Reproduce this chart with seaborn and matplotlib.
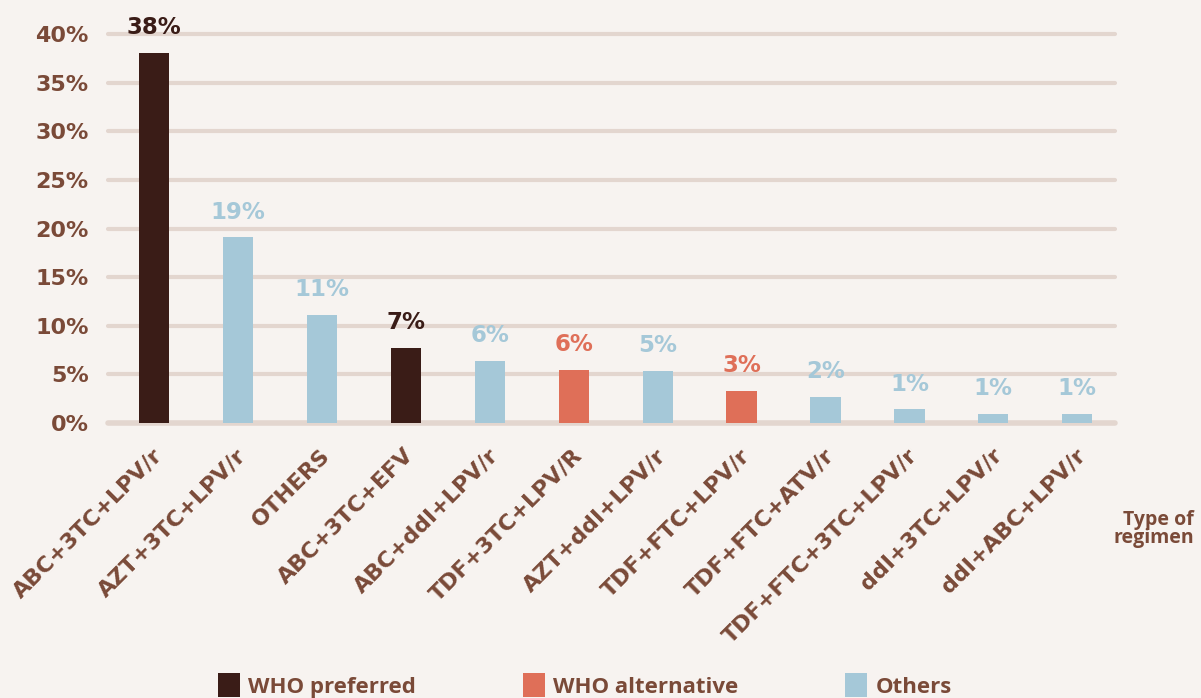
import matplotlib
matplotlib.use("Agg")
import matplotlib.pyplot as plt
import matplotlib.transforms as mtransforms
import seaborn as sns
import pandas as pd
from matplotlib.patches import Patch

# data
regimens = ["ABC+3TC+LPV/r", "AZT+3TC+LPV/r", "OTHERS", "ABC+3TC+EFV",
            "ABC+ddI+LPV/r", "TDF+3TC+LPV/R", "AZT+ddI+LPV/r", "TDF+FTC+LPV/r",
            "TDF+FTC+ATV/r", "TDF+FTC+3TC+LPV/r", "ddI+3TC+LPV/r", "ddI+ABC+LPV/r"]
share = [38.1, 19.1, 11.1, 7.7, 6.4, 5.5, 5.4, 3.3, 2.7, 1.4, 0.9, 0.9]
value_labels = ["38%", "19%", "11%", "7%", "6%", "6%", "5%", "3%", "2%", "1%", "1%", "1%"]
groups = ["WHO preferred", "Others", "Others", "WHO preferred", "Others",
          "WHO alternative", "Others", "WHO alternative", "Others", "Others",
          "Others", "Others"]
group_order = ["WHO preferred", "WHO alternative", "Others"]
yticks = [0, 5, 10, 15, 20, 25, 30, 35, 40]

bg = "#f7f3f0"
txt = "#7a4a38"
grid_c = "#e3d6cf"
palette = {"WHO preferred": "#3a1c17", "WHO alternative": "#df6f58", "Others": "#a5c8d8"}

df = pd.DataFrame({"regimen": regimens, "share": share, "group": groups})

sns.set_style("white")
plt.rcParams["font.family"] = ["DejaVu Sans"]
side_font = ["Open Sans", "DejaVu Sans"]

fig = plt.figure(figsize=(12.01, 6.98), dpi=100, facecolor=bg)
ax = fig.add_axes([0.0899, 0.394, 0.8385, 0.557], facecolor=bg)

sns.barplot(data=df, x="regimen", y="share", hue="group", palette=palette,
            hue_order=group_order, dodge=False, width=0.36, ax=ax,
            legend=False, saturation=1, linewidth=0)

ax.set_ylim(0, 40)
ax.set_xlim(-0.55, 11.45)
ax.set_yticks(yticks)
ax.set_yticklabels([f"{t}%" for t in yticks])
ax.set_axisbelow(True)
for t in yticks[1:]:
    ax.axhline(t, color=grid_c, lw=3, zorder=0, solid_capstyle="round", clip_on=False)
ax.axhline(0, color=grid_c, lw=4, zorder=0.5, solid_capstyle="round", clip_on=False)
for s in ax.spines.values():
    s.set_visible(False)
ax.tick_params(axis="both", length=0, colors=txt)
ax.tick_params(axis="y", pad=14, labelsize=16)
ax.tick_params(axis="x", pad=21, labelsize=16)
for lab in ax.get_yticklabels():
    lab.set_fontweight("bold")
shift = mtransforms.ScaledTranslation(5 / 100, 0, fig.dpi_scale_trans)
for lab in ax.get_xticklabels():
    lab.set_fontweight("bold")
    lab.set_rotation(45)
    lab.set_ha("right")
    lab.set_va("center")
    lab.set_rotation_mode("anchor")
    lab.set_transform(lab.get_transform() + shift)
ax.set_xlabel("")
ax.set_ylabel("")

# value labels above bars
for i, (v, lbl, g) in enumerate(zip(share, value_labels, groups)):
    ax.annotate(lbl, (i, v), xytext=(0, 13.5), textcoords="offset points",
                ha="center", va="baseline", fontsize=16.5, fontweight="bold",
                color=palette[g])

fig.text(0.994, 0.242, "Type of\nregimen", ha="right", va="center",
         fontsize=14, fontweight="bold", color=txt, family=side_font,
         linespacing=0.85)

handles = [Patch(facecolor=palette[g], edgecolor="none") for g in group_order]
leg = fig.legend(handles, group_order, loc="lower center", bbox_to_anchor=(0.487, -0.028),
                 ncol=3, frameon=False, columnspacing=4.8, handlelength=1.0,
                 handleheight=1.3, handletextpad=0.36,
                 prop={"family": side_font, "weight": "bold", "size": 16})
for t in leg.get_texts():
    t.set_color(txt)

fig.savefig("out.png", dpi=100, facecolor=bg)
